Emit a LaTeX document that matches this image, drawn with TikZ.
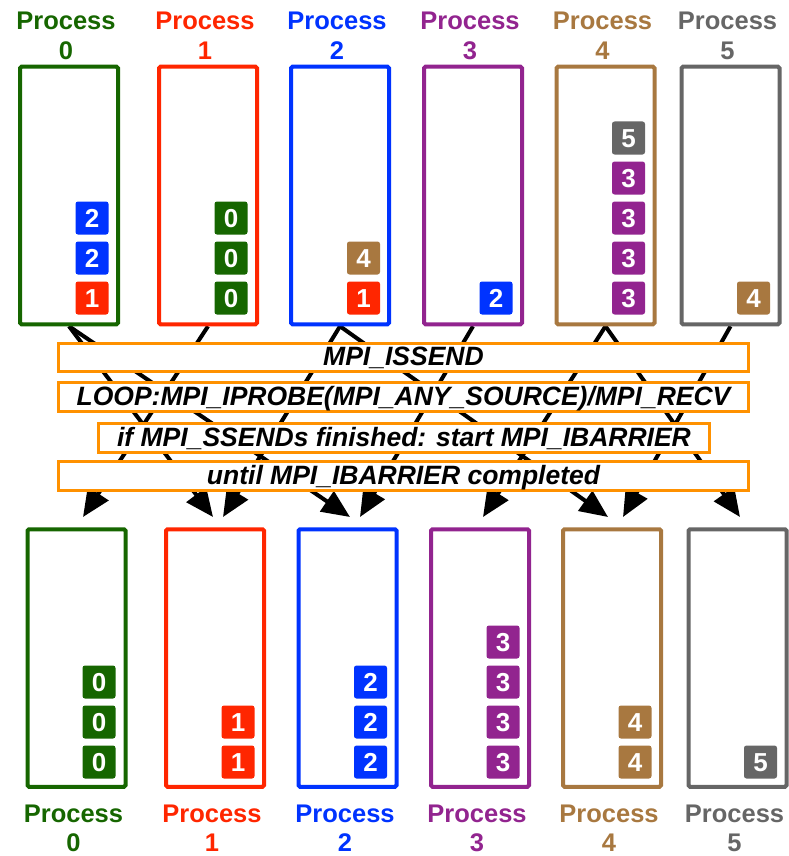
\documentclass[tikz,border=0pt]{standalone}
\usepackage{fontspec}
\setmainfont{Liberation Sans}
\usetikzlibrary{arrows.meta,backgrounds}
\definecolor{cgreen}{RGB}{22,102,0}
\definecolor{cred}{RGB}{255,38,0}
\definecolor{cblue}{RGB}{0,51,255}
\definecolor{cpurple}{RGB}{146,36,143}
\definecolor{cbrown}{RGB}{168,120,64}
\definecolor{cgray}{RGB}{102,102,102}
\definecolor{corange}{RGB}{255,145,0}
\begin{document}
\begin{tikzpicture}[x=1pt,y=-1pt,
 procbox/.style={draw=#1, line width=4pt, rounded corners=1.5pt, minimum width=98pt, minimum height=257.5pt, inner sep=0pt},
 badge/.style={fill=#1, rounded corners=2.5pt, minimum size=33pt, inner sep=0pt, text=white, font=\fontsize{26}{26}\selectfont\bfseries, text height=18.6pt, text depth=0pt},
 plabel/.style={text=#1, font=\fontsize{25.5}{30}\selectfont\bfseries, inner sep=0pt, anchor=base},
 stepbar/.style={draw=corange, line width=3pt, fill=white, minimum height=28.5pt, inner sep=0pt, font=\fontsize{26.5}{30}\selectfont\bfseries\itshape, text height=19pt, text depth=3pt},
 msg/.style={line width=4pt, -{Triangle[length=28pt,width=24pt]}}
]
\useasboundingbox (0,0) rectangle (789,856);

% top process boxes
\node[procbox=cgreen]  (t0) at (69,195.5) {};
\node[procbox=cred]    (t1) at (208,195.5) {};
\node[procbox=cblue]   (t2) at (340,195.5) {};
\node[procbox=cpurple] (t3) at (473,195.5) {};
\node[procbox=cbrown]  (t4) at (605.5,195.5) {};
\node[procbox=cgray]   (t5) at (730.5,195.5) {};

% bottom process boxes
\node[procbox=cgreen]  (b0) at (76.5,658) {};
\node[procbox=cred]    (b1) at (215,658) {};
\node[procbox=cblue]   (b2) at (347.5,658) {};
\node[procbox=cpurple] (b3) at (480,658) {};
\node[procbox=cbrown]  (b4) at (612,658) {};
\node[procbox=cgray]   (b5) at (737.5,658) {};

% top labels
\foreach \x/\c/\n in {66/cgreen/0,205/cred/1,337/cblue/2,470/cpurple/3,602.5/cbrown/4,727.5/cgray/5}{
  \node[plabel=\c] (tp\n) at (\x,30) {Process};
  \node[plabel=\c] (tn\n) at (\x,60) {\n};
}
% bottom labels
\foreach \x/\c/\n in {73.5/cgreen/0,212/cred/1,345/cblue/2,477/cpurple/3,609/cbrown/4,734.5/cgray/5}{
  \node[plabel=\c] (bp\n) at (\x,822) {Process};
  \node[plabel=\c] (bn\n) at (\x,851) {\n};
}

% top badges
\foreach \x/\y/\c/\n [count=\k] in {
  92/298/cred/1, 92/258/cblue/2, 92/218/cblue/2,
  231/298/cgreen/0, 231/258/cgreen/0, 231/218/cgreen/0,
  363.5/298/cred/1, 363.5/258/cbrown/4,
  496/298/cblue/2,
  628.5/298/cpurple/3, 628.5/258/cpurple/3, 628.5/218/cpurple/3, 628.5/178/cpurple/3, 628.5/138/cgray/5,
  753.5/298/cbrown/4}{
  \node[badge=\c] (tb\k) at (\x,\y) {\n};
}
% bottom badges
\foreach \x/\y/\c/\n [count=\k] in {
  99/762/cgreen/0, 99/722/cgreen/0, 99/682/cgreen/0,
  238/762/cred/1, 238/722/cred/1,
  370.5/762/cblue/2, 370.5/722/cblue/2, 370.5/682/cblue/2,
  503/762/cpurple/3, 503/722/cpurple/3, 503/682/cpurple/3, 503/642/cpurple/3,
  635/762/cbrown/4, 635/722/cbrown/4,
  760.5/762/cgray/5}{
  \node[badge=\c] (bb\k) at (\x,\y) {\n};
}

% arrow end points
\coordinate (e01) at (213,517);
\coordinate (e02) at (350,517);
\coordinate (e10) at (83,517);
\coordinate (e21) at (223,517);
\coordinate (e24) at (608,517);
\coordinate (e32) at (360,517);
\coordinate (e43) at (483,517);
\coordinate (e45) at (740,517);
\coordinate (e54) at (623,517);

\begin{pgfonlayer}{background}
\draw[msg] (t0.south) -- (e01);
\draw[msg] (t0.south) -- (e02);
\draw[msg] (t1.south) -- (e10);
\draw[msg] (t2.south) -- (e21);
\draw[msg] (t2.south) -- (e24);
\draw[msg] (t3.south) -- (e32);
\draw[msg] (t4.south) -- (e43);
\draw[msg] (t4.south) -- (e45);
\draw[msg] (t5.south) -- (e54);
\end{pgfonlayer}

% step bars
\node[stepbar, minimum width=690pt] (s1) at (403.5,357.5) {MPI\_ISSEND};
\node[stepbar, minimum width=690pt] (s2) at (403.5,397) {LOOP:MPI\_IPROBE(MPI\_ANY\_SOURCE)/MPI\_RECV};
\node[stepbar, minimum width=611pt] (s3) at (404,438) {if MPI\_SSENDs finished: start MPI\_IBARRIER};
\node[stepbar, minimum width=690pt] (s4) at (403.5,476) {until MPI\_IBARRIER completed};
\end{tikzpicture}
\end{document}
